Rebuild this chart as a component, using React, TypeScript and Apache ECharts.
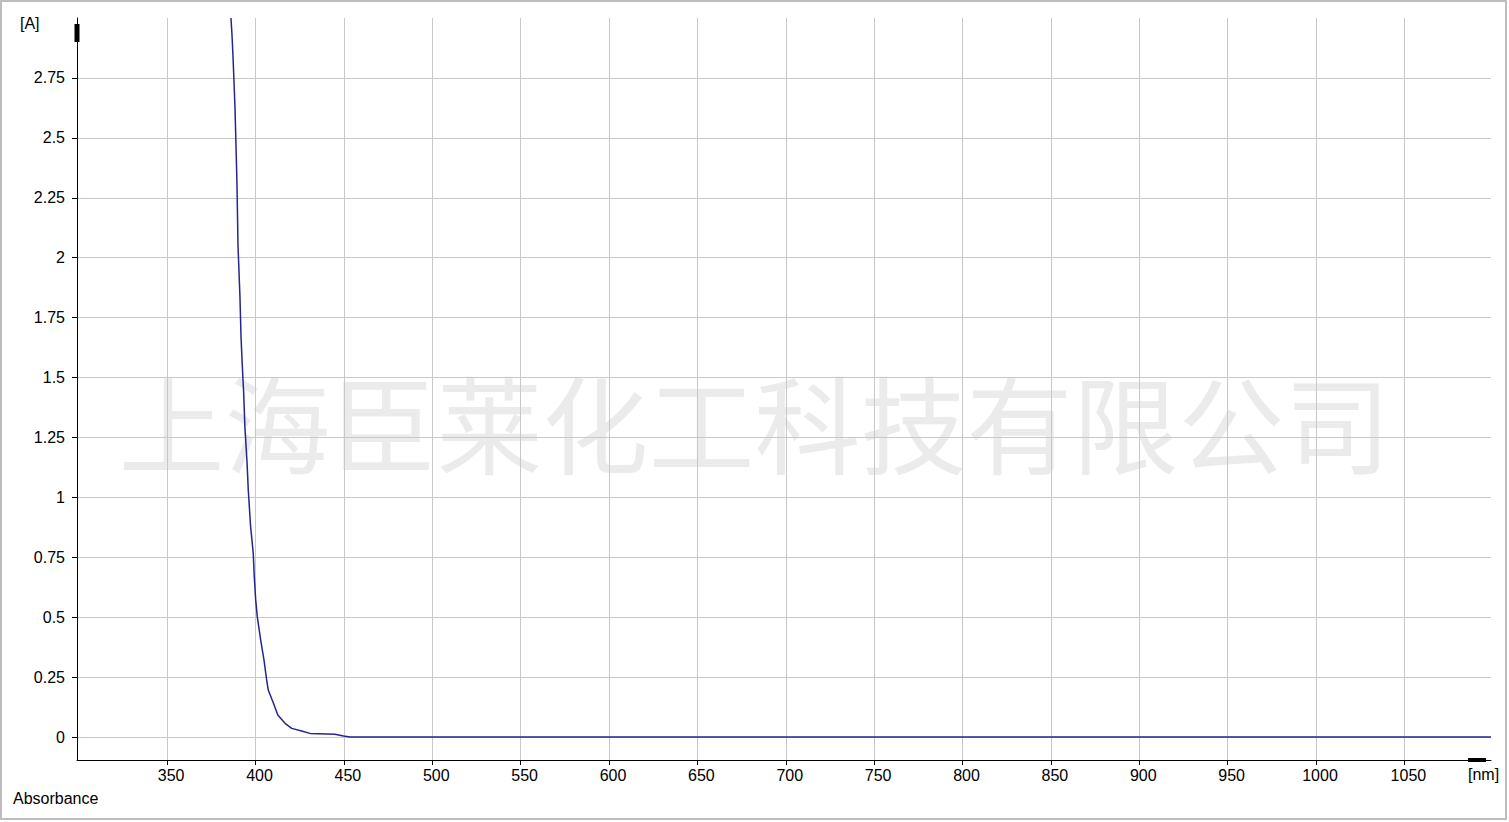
import React, { useEffect, useRef } from "react";
import * as echarts from "echarts";

const wavelengths = [386.1, 386.7, 387.3, 388.4, 389.5, 390.1, 391.2, 391.8, 392.5, 393.3, 394.0, 395.2, 395.9, 397.2, 398.7, 399.3, 400.1, 401.0, 402.9, 404.8, 406.3, 407.2, 410.1, 412.6, 416.7, 420.5, 426.1, 430.8, 445.0, 449.7, 453.5, 1099];
const absorbance = [3.0, 2.929, 2.833, 2.624, 2.312, 2.049, 1.836, 1.669, 1.552, 1.435, 1.293, 1.147, 1.031, 0.88, 0.768, 0.668, 0.572, 0.501, 0.405, 0.321, 0.238, 0.196, 0.142, 0.092, 0.057, 0.036, 0.025, 0.015, 0.011, 0.004, 0, 0];
const xTicks = [350, 400, 450, 500, 550, 600, 650, 700, 750, 800, 850, 900, 950, 1000, 1050];
const yTicks = [0, 0.25, 0.5, 0.75, 1, 1.25, 1.5, 1.75, 2, 2.25, 2.5, 2.75];
const X_MIN = 299;
const X_MAX = 1099;
const Y_MIN = -0.096;
const Y_MAX = 3;
const watermark = "上海臣莱化工科技有限公司";

const FONT = "'Liberation Sans', Arial, sans-serif";

export default function App() {
  const ref = useRef<HTMLDivElement>(null);
  useEffect(() => {
    const chart = echarts.init(ref.current!, null, { renderer: "svg" });
    const grid = { left: 77, right: 18, top: 18 };
    chart.setOption({
      animation: false,
      backgroundColor: "#ffffff",
      textStyle: { fontFamily: FONT },
      grid: [
        { ...grid, bottom: 62 },
        { ...grid, bottom: 85 },
      ],
      graphic: [
        {
          type: "text",
          left: "center",
          top: 367,
          z: -10,
          silent: true,
          style: {
            text: watermark,
            fontFamily: "'Noto Sans CJK SC', sans-serif",
            fontSize: 106,
            fill: "#ebebeb",
          },
        },
        {
          type: "rect",
          shape: { x: 1, y: 1, width: 1505, height: 818 },
          style: { fill: "none", stroke: "#bdbdbd", lineWidth: 2 },
          silent: true,
          z: 100,
        },
        { type: "text", left: 20, top: 15, style: { text: "[A]", fontFamily: FONT, fontSize: 16, fill: "#000" } },
        { type: "text", left: 13, top: 790, style: { text: "Absorbance", fontFamily: FONT, fontSize: 16, fill: "#000" } },
        { type: "text", left: 1468, top: 766, style: { text: "[nm]", fontFamily: FONT, fontSize: 16, fill: "#000" } },
      ],
      xAxis: [
        {
          type: "value",
          gridIndex: 0,
          min: X_MIN,
          max: X_MAX,
          splitNumber: 16,
          z: 3,
          axisLine: {
            show: true,
            onZero: false,
            lineStyle: { color: "#000", width: 1 },
            symbol: ["none", "rect"],
            symbolSize: [4, 18],
            symbolOffset: [0, -14],
          },
          axisTick: { show: true, customValues: xTicks, length: 5, lineStyle: { color: "#000" } },
          axisLabel: {
            customValues: xTicks,
            margin: 7,
            fontSize: 16,
            fontFamily: FONT,
            color: "#000",
            padding: [0, 0, 0, 8],
            formatter: (v: number) => (xTicks.indexOf(v) >= 0 ? String(v) : ""),
          },
          splitLine: { show: true, lineStyle: { color: "#c8c8c8", width: 1 } },
        },
        { type: "value", gridIndex: 1, min: X_MIN, max: X_MAX, show: false },
      ],
      yAxis: [
        {
          type: "value",
          gridIndex: 0,
          min: Y_MIN,
          max: Y_MAX,
          z: 3,
          axisLine: {
            show: true,
            onZero: false,
            lineStyle: { color: "#000", width: 1 },
            symbol: ["none", "rect"],
            symbolSize: [5, 18],
            symbolOffset: [0, -15],
          },
          axisTick: { show: false },
          axisLabel: { show: false },
          splitLine: { show: false },
        },
        {
          type: "value",
          gridIndex: 1,
          min: 0,
          max: 3,
          interval: 0.25,
          axisLine: { show: false },
          axisTick: { show: true, customValues: yTicks, length: 5, lineStyle: { color: "#000" } },
          axisLabel: {
            customValues: yTicks,
            margin: 12,
            fontSize: 16,
            fontFamily: FONT,
            color: "#000",
            padding: [4, 0, 0, 0],
            formatter: (v: number) => (v >= 3 ? "" : String(v)),
          },
          splitLine: { show: true, lineStyle: { color: "#c8c8c8", width: 1 } },
        },
      ],
      series: [
        {
          type: "line",
          xAxisIndex: 0,
          yAxisIndex: 0,
          data: wavelengths.map((w, i) => [w, absorbance[i]]),
          showSymbol: false,
          symbol: "none",
          lineStyle: { color: "#25258f", width: 1.5 },
          z: 5,
        },
      ],
    });
    return () => chart.dispose();
  }, []);
  return (
    <div
      ref={ref}
      style={{ position: "fixed", left: 0, top: 0, width: 1509, height: 822, background: "#fff" }}
    />
  );
}
